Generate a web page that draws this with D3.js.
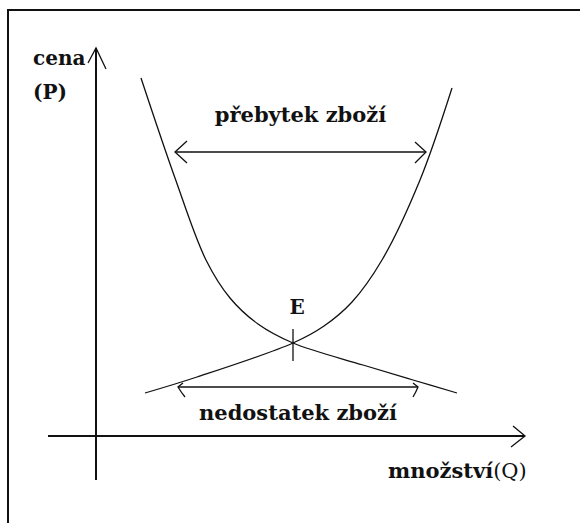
<!DOCTYPE html>
<html>
<head>
<meta charset="utf-8">
<script src="https://cdn.jsdelivr.net/npm/d3@7"></script>
<style>
  body { margin: 0; background: #fff; overflow: hidden; }
  text { font-family: "DejaVu Serif", serif; font-weight: bold; fill: #111; }
</style>
</head>
<body>
<div id="chart"></div>
<script>
var width = 580,
    height = 523;

// demand curve (steep fall, then flat)
var demandQ = [11.25, 19.75, 27.5, 33.5, 40.5, 49.25, 66.75, 79.25, 90.25];
var demandP = [89.5, 64.5, 44, 34.5, 28, 23.25, 17.75, 14, 10.75];

// supply curve (flat rise, then steep)
var supplyQ = [12.25, 25.25, 49.25, 57, 64, 71.5, 81, 89];
var supplyP = [10.75, 14.75, 23.25, 27.5, 33.5, 44, 64, 87];

// equilibrium
var eqQ = 49.25, eqP = 23.25;

// surplus / shortage arrows [Q from, Q to, P]
var surplus = [19.75, 82.5, 71];
var shortage = [20.5, 80.5, 12.25];

// axis extents
var axisQ = [-12, 107.25];
var axisP = [-11, 97];

var labels = {
  surplus: "přebytek zboží",
  shortage: "nedostatek zboží",
  eq: "E",
  yTitle: ["cena", "(P)"],
  xTitle: "množství",
  xUnit: "(Q)"
};

var x = d3.scaleLinear().domain([0, 100]).range([96, 496]);
var y = d3.scaleLinear().domain([0, 100]).range([436, 36]);

var svg = d3.select("#chart").append("svg")
    .attr("width", width)
    .attr("height", height);

// frame (right/bottom edges fall outside the picture)
svg.append("rect")
    .attr("x", 8).attr("y", 10)
    .attr("width", 600).attr("height", 600)
    .attr("fill", "none")
    .attr("stroke", "#111")
    .attr("stroke-width", 2);

// axes
svg.append("line")
    .attr("x1", x(0)).attr("x2", x(0))
    .attr("y1", y(axisP[0])).attr("y2", y(axisP[1]))
    .attr("stroke", "#111").attr("stroke-width", 2);
svg.append("line")
    .attr("x1", x(axisQ[0])).attr("x2", x(axisQ[1]))
    .attr("y1", y(0)).attr("y2", y(0))
    .attr("stroke", "#111").attr("stroke-width", 2);

// arrow heads on axes
var yt = [x(0), y(axisP[1])];
svg.append("path")
    .attr("d", "M" + (yt[0] - 8) + "," + (yt[1] + 15) + "L" + yt[0] + "," + yt[1] + "L" + (yt[0] + 10) + "," + (yt[1] + 21))
    .attr("fill", "none").attr("stroke", "#111").attr("stroke-width", 1.3);
var xt = [x(axisQ[1]), y(0)];
svg.append("path")
    .attr("d", "M" + (xt[0] - 12) + "," + (xt[1] - 10) + "L" + xt[0] + "," + xt[1] + "L" + (xt[0] - 14) + "," + (xt[1] + 11))
    .attr("fill", "none").attr("stroke", "#111").attr("stroke-width", 1.3);

// curves
var line = d3.line()
    .x(function(d) { return x(d[0]); })
    .y(function(d) { return y(d[1]); })
    .curve(d3.curveCatmullRom.alpha(0.5));

var demand = demandQ.map(function(q, i) { return [q, demandP[i]]; });
var supply = supplyQ.map(function(q, i) { return [q, supplyP[i]]; });

svg.selectAll("path.curve")
    .data([demand, supply])
    .enter()
    .append("path")
    .attr("class", "curve")
    .attr("d", line)
    .attr("fill", "none")
    .attr("stroke", "#111")
    .attr("stroke-width", 1.3);

// equilibrium tick
svg.append("line")
    .attr("x1", x(eqQ)).attr("x2", x(eqQ))
    .attr("y1", y(eqP) - 14).attr("y2", y(eqP) + 18)
    .attr("stroke", "#111").attr("stroke-width", 1.3);

// surplus double arrow
var sy = y(surplus[2]), s0 = x(surplus[0]), s1 = x(surplus[1]);
svg.append("line")
    .attr("x1", s0).attr("x2", s1).attr("y1", sy).attr("y2", sy)
    .attr("stroke", "#111").attr("stroke-width", 1.5);
svg.append("path")
    .attr("d", "M" + (s0 + 12) + "," + (sy - 11) + "L" + s0 + "," + sy + "L" + (s0 + 12) + "," + (sy + 11) +
               "M" + (s1 - 11) + "," + (sy - 10) + "L" + s1 + "," + sy + "L" + (s1 - 11) + "," + (sy + 11))
    .attr("fill", "none").attr("stroke", "#111").attr("stroke-width", 1.3);

// shortage double arrow
var hy = y(shortage[2]), h0 = x(shortage[0]), h1 = x(shortage[1]);
svg.append("line")
    .attr("x1", h0).attr("x2", h1).attr("y1", hy).attr("y2", hy)
    .attr("stroke", "#111").attr("stroke-width", 1.5);
svg.append("path")
    .attr("d", "M" + (h0 + 5) + "," + (hy - 4) + "L" + h0 + "," + hy + "Q" + (h0 + 3) + "," + (hy + 5) + " " + (h0 + 7) + "," + (hy + 10) +
               "M" + (h1 - 5) + "," + (hy - 4) + "L" + h1 + "," + hy + "Q" + (h1 - 2) + "," + (hy + 5) + " " + (h1 - 5) + "," + (hy + 10))
    .attr("fill", "none").attr("stroke", "#111").attr("stroke-width", 1.3);

// labels
svg.append("text")
    .attr("x", (s0 + s1) / 2).attr("y", sy - 30)
    .attr("text-anchor", "middle")
    .style("font-size", "21px")
    .text(labels.surplus);

svg.append("text")
    .attr("x", (h0 + h1) / 2).attr("y", hy + 33)
    .attr("text-anchor", "middle")
    .style("font-size", "21px")
    .text(labels.shortage);

svg.append("text")
    .attr("x", x(eqQ) + 4).attr("y", y(eqP) - 29)
    .attr("text-anchor", "middle")
    .style("font-size", "20px")
    .text(labels.eq);

svg.append("text")
    .attr("x", 33).attr("y", 65)
    .style("font-size", "20px")
    .text(labels.yTitle[0]);
svg.append("text")
    .attr("x", 33).attr("y", 99)
    .style("font-size", "20px")
    .text(labels.yTitle[1]);

var xl = svg.append("text")
    .attr("x", 388).attr("y", 478)
    .style("font-size", "21px");
xl.append("tspan").text(labels.xTitle);
xl.append("tspan").style("font-weight", "normal").text(labels.xUnit);
</script>
</body>
</html>
